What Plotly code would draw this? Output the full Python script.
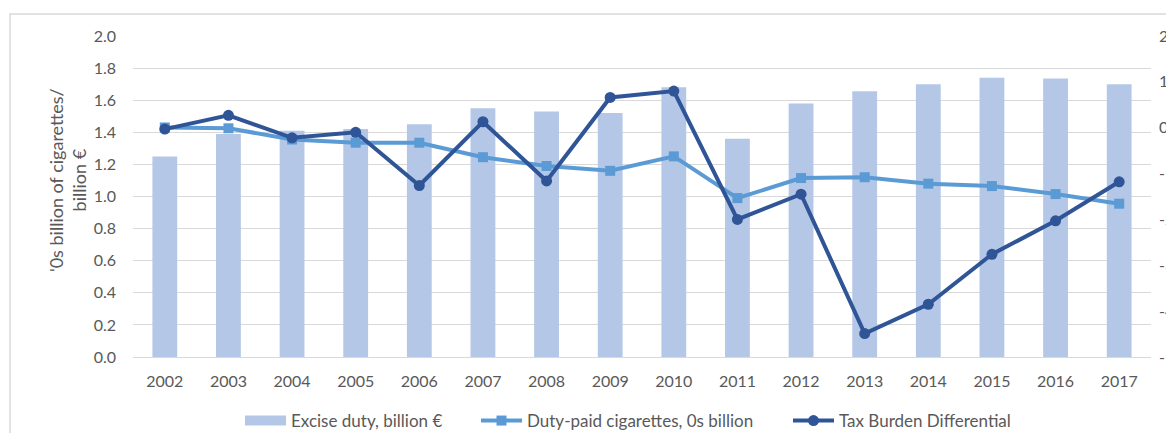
import plotly.graph_objects as go

years = [str(y) for y in range(2002, 2018)]
excise_duty = [1.25, 1.39, 1.41, 1.42, 1.45, 1.55, 1.53, 1.52, 1.68, 1.36, 1.58, 1.655, 1.70, 1.74, 1.735, 1.70]
duty_paid = [1.43, 1.425, 1.355, 1.335, 1.335, 1.245, 1.19, 1.16, 1.25, 0.99, 1.115, 1.12, 1.08, 1.065, 1.015, 0.955]
tax_burden = [-0.03, 0.27, -0.22, -0.10, -1.26, 0.13, -1.16, 0.66, 0.80, -2.00, -1.45, -4.49, -3.85, -2.76, -2.03, -1.18]

left_tick_vals = [0.0, 0.2, 0.4, 0.6, 0.8, 1.0, 1.2, 1.4, 1.6, 1.8, 2.0]
right_tick_vals = [2, 1, 0, -1, -2, -3, -4, -5]
right_tick_text = ["2", "1", "0", "-1", "-2", "-3", "-4", "-5"]

FONT = "Lato"
TXT = "#595959"
GRID = "#D9D9D9"

OFF = 8  # page body margin
W, H = 1174 - OFF, 441 - 2 * OFF
L, R, T = 125, 23, 28
B = int(round(H - (356.7 - OFF)))
pw, ph = W - L - R, H - T - B

def px_x(x):  # page pixel -> paper fraction
    return (x - OFF - L) / pw

def px_y(y):
    return (H - B - (y - OFF)) / ph

fig = go.Figure()
fig.add_trace(go.Bar(x=years, y=excise_duty, name="Excise duty, billion €", showlegend=False,
                     marker=dict(color="#B4C7E7", line=dict(width=0))))
fig.add_trace(go.Scatter(x=[None], y=[None], name="Excise duty, billion €", mode="lines",
                         line=dict(color="#B4C7E7", width=11), hoverinfo="skip", legend="legend"))
fig.add_trace(go.Scatter(x=years, y=duty_paid, name="Duty-paid cigarettes, 0s billion",
                         mode="lines+markers", legend="legend2",
                         line=dict(color="#5B9BD5", width=4),
                         marker=dict(symbol="square", size=10, color="#5B9BD5")))
fig.add_trace(go.Scatter(x=years, y=tax_burden, name="Tax Burden Differential",
                         mode="lines+markers", yaxis="y2", legend="legend3",
                         line=dict(color="#2F5597", width=4),
                         marker=dict(symbol="circle", size=11, color="#2F5597")))

def leg(text_start):
    return dict(orientation="h", x=px_x(text_start - 49), xanchor="left", y=px_y(421),
                yanchor="middle", font=dict(family=FONT, size=17, color=TXT),
                itemwidth=41, bgcolor="rgba(0,0,0,0)")

fig.update_layout(
    width=W, height=H,
    margin=dict(l=L, r=R, t=T, b=B, pad=0, autoexpand=False),
    paper_bgcolor="white", plot_bgcolor="white",
    font=dict(family=FONT, size=16, color=TXT),
    bargap=0.61,
    showlegend=True,
    legend=leg(289),
    legend2=leg(525),
    legend3=leg(837),
    xaxis=dict(type="category", range=[-0.5, len(years) - 0.5], showgrid=False, showline=True,
               linecolor=GRID, linewidth=1, automargin=False,
               ticks="", tickfont=dict(family=FONT, size=16, color=TXT), ticklabelstandoff=10),
    yaxis=dict(range=[0, 2], tickvals=left_tick_vals, tickformat=".1f", showgrid=True,
               automargin=False,
               gridcolor=GRID, gridwidth=1, zeroline=False, showline=False, ticks="",
               tickfont=dict(family=FONT, size=16, color=TXT), ticklabelstandoff=16),
    yaxis2=dict(range=[-5, 2], tickvals=right_tick_vals, ticktext=right_tick_text,
                automargin=False,
                overlaying="y", side="right", showgrid=False, zeroline=False, showline=False,
                ticks="", tickfont=dict(family=FONT, size=16, color=TXT), ticklabelstandoff=7),
    annotations=[dict(text="'0s billion of cigarettes/<br>billion €", xref="paper", yref="paper",
                      x=px_x(67), y=px_y(180), xanchor="center", yanchor="middle",
                      textangle=-90, showarrow=False, align="center",
                      font=dict(family=FONT, size=18, color=TXT))],
    shapes=[dict(type="rect", xref="paper", yref="paper",
                 x0=px_x(10), x1=px_x(1300), y0=px_y(600), y1=px_y(14),
                 line=dict(color=GRID, width=1.5), fillcolor="rgba(0,0,0,0)", layer="below")],
)

fig.write_html("out.html")
